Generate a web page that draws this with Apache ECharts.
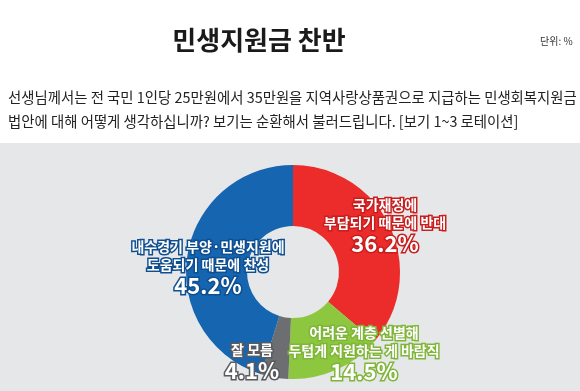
<!DOCTYPE html>
<html><head><meta charset="utf-8">
<script src="https://cdn.jsdelivr.net/npm/echarts@6/dist/echarts.min.js"></script>
<style>html,body{margin:0;padding:0;background:#fff}#c{width:580px;height:391px}</style>
</head><body><div id="c"></div>
<script>
const categories = ['국가재정에\n부담되기 때문에 반대', '어려운 계층 선별해\n두텁게 지원하는 게 바람직', '잘 모름', '내수경기 부양·민생지원에\n도움되기 때문에 찬성'];
const values = [36.2, 14.5, 4.1, 45.2];
const colors = ['#ec2b2b', '#8dc63f', '#6d6e71', '#1565b0'];
const strokes = ['#c81e1e', '#7fb539', '#5a5b5e', '#0f4f90'];
const titleText = '민생지원금 찬반';
const unitText = '단위: %';
const questionLines = ['선생님께서는 전 국민 1인당 25만원에서 35만원을 지역사랑상품권으로 지급하는 민생회복지원금', '법안에 대해 어떻게 생각하십니까? 보기는 순환해서 불러드립니다. [보기 1~3 로테이션]'];

const F = '"Noto Sans CJK KR", "Noto Sans", sans-serif';
const labelPos = [[385, 226], [364, 354], [252, 362], [208, 268]];
const chart = echarts.init(document.getElementById('c'));
const graphics = [
  {type:'rect', shape:{x:0,y:143,width:580,height:248}, style:{fill:'#e6e7e8'}, z:-10},
  {type:'text', style:{x:259,y:40,text:titleText, font:'bold 26px '+F, fill:'#1a1a1a', align:'center', verticalAlign:'middle'}},
  {type:'text', style:{x:540,y:36,text:unitText, font:'10px '+F, fill:'#333'}},
  {type:'text', style:{x:8,y:90,text:questionLines[0], font:'14.4px '+F, fill:'#222'}},
  {type:'text', style:{x:8,y:114,text:questionLines[1], font:'14.4px '+F, fill:'#222'}}
];
categories.forEach((c, i) => {
  graphics.push({type:'text', z:10, style:{
    x:labelPos[i][0], y:labelPos[i][1], align:'center', verticalAlign:'middle',
    text:'{a|' + c.split('\n').join('}\n{a|') + '}\n{b|' + values[i] + '%}',
    rich:{
      a:{font:'bold 14px '+F, fill:'#fff', stroke:strokes[i], lineWidth:3, lineHeight:18, align:'center'},
      b:{font:'bold 22px '+F, fill:'#fff', stroke:strokes[i], lineWidth:3, lineHeight:24, align:'center'}
    }
  }});
});
chart.setOption({
  animation:false,
  backgroundColor:'#fff',
  graphic: graphics,
  series:[{
    type:'pie', center:[293,272], radius:[46,107], startAngle:90, clockwise:true,
    label:{show:false}, labelLine:{show:false},
    itemStyle:{borderWidth:0},
    data: categories.map((c,i)=>({name:c, value:values[i], itemStyle:{color:colors[i]}}))
  }]
});
</script></body></html>
